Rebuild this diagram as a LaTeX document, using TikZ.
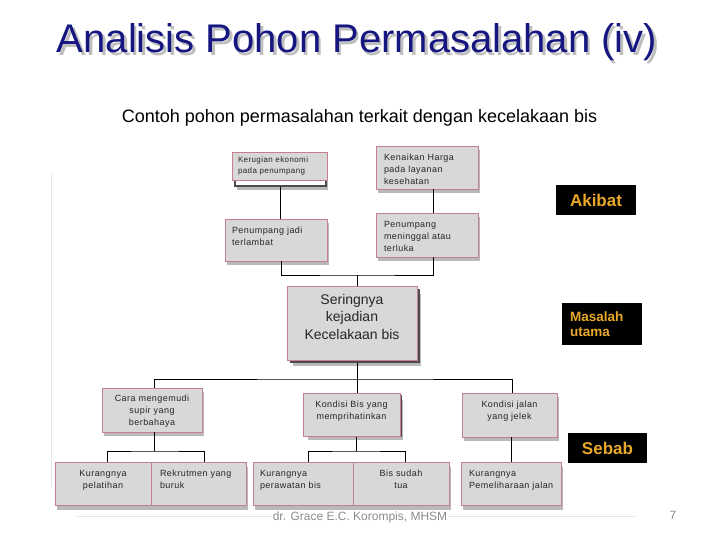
\documentclass[tikz,border=0pt]{standalone}
\usepackage{fontspec}
\setmainfont{Liberation Sans}
\newfontfamily\boxfam[LetterSpace=5]{Liberation Sans}
\newfontfamily\plainfam{Liberation Sans}
\usetikzlibrary{shadows}
\definecolor{titleblue}{RGB}{22,22,128}
\definecolor{boxgray}{RGB}{216,216,216}
\definecolor{boxedge}{RGB}{196,128,140}
\definecolor{taggold}{RGB}{232,168,40}
\newcommand\bt[5]{\parbox[c][#1][t]{#2}{\vspace*{#3}#4\strut #5\par}}
\tikzset{
  boxbase/.style={draw=boxedge, fill=boxgray, line width=0.8pt, inner sep=0pt,
    font=\boxfam\fontsize{9}{12}\selectfont, text=black!85},
  box/.style={boxbase, drop shadow={shadow xshift=2pt, shadow yshift=-4pt, opacity=0.55}},
  backbox/.style={draw=black!70, line width=1.1pt, inner sep=0pt,
    drop shadow={shadow xshift=2pt, shadow yshift=-4pt, opacity=0.55}},
  tag/.style={fill=black, text=taggold, inner sep=0pt},
  conn/.style={draw=black, line width=0.8pt},
}
\begin{document}
\begin{tikzpicture}[x=1pt,y=-1pt]
\useasboundingbox (0,0) rectangle (720,540);
\fill[white] (0,0) rectangle (720,540);
% title
\node[anchor=base, text=gray!50, font=\fontsize{40}{48}\selectfont] (titlesh) at (359.5,55.5) {Analisis Pohon Permasalahan (iv)};
\node[anchor=base, text=titleblue, font=\fontsize{40}{48}\selectfont] (title) at (357,53) {Analisis Pohon Permasalahan (iv)};
\node[anchor=base, font=\fontsize{18}{22}\selectfont] (subtitle) at (359.5,123) {Contoh pohon permasalahan terkait dengan kecelakaan bis};
% side and footer lines
\draw[gray!20, line width=0.6pt] (51,173) -- (51,487);
\draw[gray!20, line width=0.6pt] (77,516) -- (635,516);
% top row
\node[backbox, fill=white, minimum width=91, minimum height=30] (kerub) at (280.5,171) {};
\node[boxbase] (keru) at (279.5,166) {\bt{28pt}{95pt}{3pt}{\raggedright\leftskip=6pt\fontsize{8}{11}\selectfont}{Kerugian ekonomi\\pada penumpang}};
\node[box] (naik) at (427,167.5) {\bt{43pt}{102pt}{6pt}{\raggedright\leftskip=8pt}{Kenaikan Harga\\pada layanan\\kesehatan}};
\node[box] (pjadi) at (276,240) {\bt{42pt}{102pt}{6pt}{\raggedright\leftskip=7pt}{Penumpang jadi\\terlambat}};
\node[box] (pmen) at (427,235) {\bt{44pt}{102pt}{6pt}{\raggedright\leftskip=8pt}{Penumpang\\meninggal atau\\terluka}};
% core problem
\node[backbox, fill=gray!25, minimum width=128, minimum height=72] (seringb) at (355,326) {};
\node[boxbase] (sering) at (352,323) {\bt{74pt}{130pt}{5.75pt}{\centering\plainfam\fontsize{14}{17.5}\selectfont}{Seringnya\\kejadian\\Kecelakaan bis}};
% middle row
\node[box] (cara) at (152,410) {\bt{44pt}{100pt}{5pt}{\centering}{Cara mengemudi\\supir yang\\berbahaya}};
\node[backbox, fill=gray!40, minimum width=95, minimum height=40] (kbisb) at (353.5,416) {};
\node[boxbase] (kbis) at (351.5,414.5) {\bt{43pt}{97pt}{6pt}{\centering}{Kondisi Bis yang\\memprihatinkan}};
\node[box] (jalan) at (509.5,415) {\bt{44pt}{95pt}{6.5pt}{\centering}{Kondisi jalan\\yang jelek}};
% bottom row
\node[box] (pelat) at (103,484) {\bt{43pt}{96pt}{6pt}{\centering}{Kurangnya\\pelatihan}};
\node[box] (rekr) at (198.5,484) {\bt{43pt}{95pt}{6pt}{\raggedright\leftskip=9pt}{Rekrutmen yang\\buruk}};
\node[box] (peraw) at (303,484) {\bt{43pt}{100pt}{6pt}{\raggedright\leftskip=7pt}{Kurangnya\\perawatan bis}};
\node[box] (tua) at (401,484) {\bt{43pt}{96pt}{6pt}{\centering}{Bis sudah\\tua}};
\node[box] (pemel) at (511,484) {\bt{43pt}{100pt}{6pt}{\raggedright\leftskip=8pt}{Kurangnya\\Pemeliharaan jalan}};
% connectors
\coordinate (j1) at (357,275);
\coordinate (j2) at (357,379);
\coordinate (j3) at (154,451);
\coordinate (j4) at (356,451);
\draw[conn] (kerub.south) -- (kerub.south |- pjadi.north);
\draw[conn] ([xshift=6pt]naik.south) -- ([xshift=6pt]pmen.north);
\draw[conn] ([xshift=5pt]pjadi.south) |- (j1) -| ([xshift=6pt]pmen.south);
\draw[conn] (j1) -- (j1 |- sering.north);
\draw[conn] (j2 |- seringb.south) -- (j2);
\draw[conn] ([xshift=2pt]cara.north) |- (j2) -| ([xshift=2.5pt]jalan.north);
\draw[conn] (j2) -- (j2 |- kbis.north);
\draw[conn] ([xshift=2pt]cara.south) -- (j3);
\draw[conn] ([xshift=4pt]pelat.north) |- (j3) -| ([xshift=5.5pt]rekr.north);
\draw[conn] (j4 |- kbisb.south) -- (j4);
\draw[conn] ([xshift=5pt]peraw.north) |- (j4) -| ([xshift=4pt]tua.north);
\draw[conn] (pemel.north) -- (pemel.north |- jalan.south);
% tags
\node[tag, minimum width=80, minimum height=30, font=\bfseries\fontsize{17}{20}\selectfont] (akibat) at (596,200) {Akibat};
\node[tag, minimum width=80, minimum height=42, inner xsep=8pt, text width=64pt, align=left, font=\bfseries\fontsize{13.5}{15}\selectfont] (masalah) at (602,324) {Masalah\\utama};
\node[tag, minimum width=79, minimum height=30, font=\bfseries\fontsize{17}{20}\selectfont] (sebab) at (607.5,448) {Sebab};
% footer
\node[anchor=base, fill=white, inner sep=1pt, text=gray!90, font=\fontsize{12}{14}\selectfont] (footer) at (360,520) {dr. Grace E.C. Korompis, MHSM};
\node[anchor=base, text=gray!90, font=\fontsize{12}{14}\selectfont] (pnum) at (673,519) {7};
\end{tikzpicture}
\end{document}
